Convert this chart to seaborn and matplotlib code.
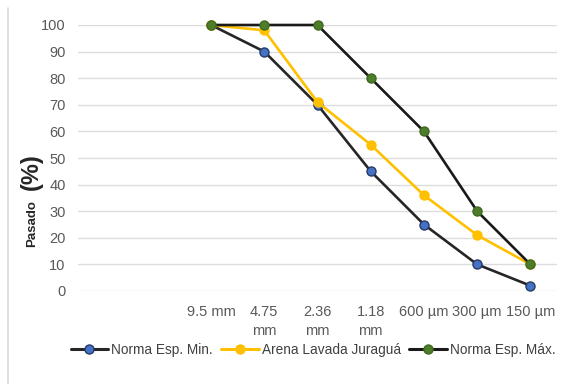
import matplotlib
matplotlib.use("Agg")
import matplotlib.pyplot as plt
from matplotlib.lines import Line2D
import numpy as np
import pandas as pd
import seaborn as sns

# Sieve sizes (the two coarsest slots carry no label)
sieve_labels = ["", "", "9.5 mm", "4.75\nmm", "2.36\nmm", "1.18\nmm",
                "600 µm", "300 µm", "150 µm"]
norma_min = [np.nan, np.nan, 100, 90, 70, 45, 25, 10, 2]
arena_juragua = [np.nan, np.nan, 100, 98, 71, 55, 36, 21, 10]
norma_max = [np.nan, np.nan, 100, 100, 100, 80, 60, 30, 10]
y_ticks = [0, 10, 20, 30, 40, 50, 60, 70, 80, 90, 100]

series_names = ["Norma Esp. Min.", "Arena Lavada Juraguá", "Norma Esp. Máx."]
series_values = [norma_min, arena_juragua, norma_max]
line_colors = ["#262626", "#FFC000", "#1A1A1A"]
marker_faces = ["#4472C4", "#FFC000", "#4E7D2A"]
marker_edges = ["#263A66", "#FFC000", "#3E6A20"]

sns.set_theme(style="white")
plt.rcParams["font.family"] = ["Liberation Sans", "DejaVu Sans"]

fig = plt.figure(figsize=(5.61, 3.84), dpi=100)
ax = fig.add_axes([78 / 561, 1 - 291 / 384, (557 - 78) / 561, (291 - 25) / 384])

positions = np.arange(len(sieve_labels))
for name, vals, lc, mf, me in zip(series_names, series_values, line_colors,
                                  marker_faces, marker_edges):
    df = pd.DataFrame({"pos": positions, "pct": vals}).dropna()
    sns.lineplot(data=df, x="pos", y="pct", ax=ax, color=lc, linewidth=1.9,
                 marker="o", markersize=6.5, markerfacecolor=mf,
                 markeredgecolor=me, markeredgewidth=1.0, label=name,
                 legend=False)

ax.set_xlim(-0.5, len(sieve_labels) - 0.5)
ax.set_ylim(0, 100)
ax.set_xticks(positions)
ax.set_xticklabels(sieve_labels, fontsize=10.5, color="#595959",
                   va="top", linespacing=1.45)
ax.set_yticks(y_ticks)
ax.set_yticklabels([str(t) for t in y_ticks], fontsize=10.5, color="#595959")
ax.tick_params(axis="x", length=0, pad=10)
ax.tick_params(axis="y", length=0, pad=9)
ax.yaxis.grid(True, color="#DCDCDC", linewidth=1.0)
ax.xaxis.grid(False)
for side in ax.spines.values():
    side.set_visible(False)
ax.set_xlabel("")
ax.set_ylabel("")
for ln in ax.lines:
    ln.set_clip_on(False)

# Axis title: small "Pasado" with a larger "(%)"
fig.text(32 / 561, 1 - 224 / 384, "Pasado", rotation=90, fontsize=9.5,
         fontweight="bold", color="#262626", ha="center", va="center")
fig.text(31 / 561, 1 - 172 / 384, "(%)", rotation=90, fontsize=17,
         fontweight="bold", color="#262626", ha="center", va="center")

# Legend along the bottom
handles = [Line2D([0], [0], color=lc, linewidth=2.2, marker="o", markersize=6.5,
                  markerfacecolor=mf, markeredgecolor=me)
           for lc, mf, me in zip(line_colors, marker_faces, marker_edges)]
fig.legend(handles, series_names, loc="center", bbox_to_anchor=(313 / 561, 1 - 350 / 384),
           ncol=3, frameon=False, fontsize=9.8, handlelength=2.75,
           handletextpad=0.2, columnspacing=0.65, labelcolor="#404040",
           borderpad=0.1)

# Chart-area border on the left edge
fig.add_artist(Line2D([8 / 561, 8 / 561], [0, 1 - 8 / 384], color="#D9D9D9",
                      linewidth=1.2, transform=fig.transFigure))

fig.savefig("out.png", dpi=100)
